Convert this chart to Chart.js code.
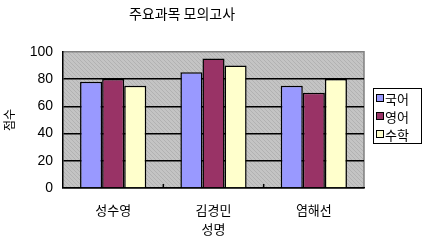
<!DOCTYPE html>
<html><head><meta charset="utf-8">
<script src="https://cdn.jsdelivr.net/npm/chart.js@4/dist/chart.umd.min.js"></script>
<style>html,body{margin:0;padding:0;background:#fff;}#wrap{width:426px;height:246px;}</style>
</head><body><div id="wrap"><canvas id="c" width="426" height="246"></canvas></div>
<script>
const categories = ['성수영', '김경민', '염해선'];
const seriesNames = ['국어', '영어', '수학'];
const korean = [78, 85, 75];
const english = [80, 95, 70];
const math = [75, 90, 80];
const yTicks = [0, 20, 40, 60, 80, 100];
const chartTitle = '주요과목 모의고사';
const xTitle = '성명';
const yTitle = '점수';

const colors = ['#9999FF', '#993366', '#FFFFCC'];
const FONT = "'Liberation Sans', 'Noto Sans CJK KR', sans-serif";
const KFONT = "'Noto Sans CJK KR', 'Liberation Sans', sans-serif";

const pc = document.createElement('canvas'); pc.width = 4; pc.height = 4;
const px = pc.getContext('2d');
px.fillStyle = '#c4c4c4'; px.fillRect(0, 0, 4, 4);
px.fillStyle = '#b2b2b2'; for (let i = 0; i < 4; i++) px.fillRect(i, i, 1, 1);

const bgPlugin = {
  id: 'bg',
  beforeDraw(chart) {
    const a = chart.chartArea, ctx = chart.ctx;
    ctx.save();
    ctx.fillStyle = ctx.createPattern(pc, 'repeat');
    ctx.fillRect(a.left, a.top, a.right - a.left, a.bottom - a.top);
    ctx.strokeStyle = '#808080'; ctx.lineWidth = 1.5;
    ctx.beginPath(); ctx.moveTo(a.left, a.top); ctx.lineTo(a.right, a.top); ctx.lineTo(a.right, a.bottom); ctx.stroke();
    ctx.restore();
  },
  afterDraw(chart) {
    const a = chart.chartArea, ctx = chart.ctx;
    const xs = chart.scales.x;
    ctx.save();
    ctx.strokeStyle = '#000'; ctx.lineWidth = 1.5;
    for (let i = 0; i < categories.length - 1; i++) {
      const p = (xs.getPixelForValue(i) + xs.getPixelForValue(i + 1)) / 2;
      ctx.beginPath(); ctx.moveTo(p, a.bottom); ctx.lineTo(p, a.bottom - 4); ctx.stroke();
    }
    const bx = a.right + 9, by = 88, bw = 48, bh = 55;
    ctx.fillStyle = '#fff'; ctx.fillRect(bx, by, bw, bh);
    ctx.strokeStyle = '#000'; ctx.lineWidth = 1;
    ctx.strokeRect(bx + 0.5, by + 0.5, bw, bh);
    ctx.font = '13px ' + KFONT; ctx.textBaseline = 'middle'; ctx.textAlign = 'left';
    chart.data.datasets.forEach((ds, i) => {
      const cy = by + 10 + i * 18;
      ctx.fillStyle = ds.backgroundColor;
      ctx.fillRect(bx + 4, cy - 3, 6, 6);
      ctx.strokeStyle = '#000'; ctx.strokeRect(bx + 3.5, cy - 3.5, 7, 7);
      ctx.fillStyle = '#000';
      ctx.fillText(ds.label, bx + 12, cy + 1);
    });
    ctx.restore();
  }
};

new Chart(document.getElementById('c'), {
  type: 'bar',
  data: {
    labels: categories,
    datasets: [
      { label: seriesNames[0], data: korean, backgroundColor: colors[0] },
      { label: seriesNames[1], data: english, backgroundColor: colors[1] },
      { label: seriesNames[2], data: math, backgroundColor: colors[2] }
    ].map(d => Object.assign(d, { borderColor: '#000', borderWidth: 1.5, categoryPercentage: 0.66, barPercentage: 1.0 }))
  },
  options: {
    responsive: false,
    animation: false,
    devicePixelRatio: 1,
    layout: { padding: { left: 0, right: 62, top: 0, bottom: 0 } },
    plugins: {
      legend: { display: false },
      tooltip: { enabled: false },
      title: { display: true, text: chartTitle, color: '#000', font: { family: KFONT, size: 14, weight: 'normal' }, padding: { top: 5, bottom: 30 } }
    },
    scales: {
      x: {
        grid: { display: false, drawTicks: false },
        border: { display: true, color: '#000', width: 1.5 },
        ticks: { color: '#000', font: { family: KFONT, size: 13 }, padding: 14, maxRotation: 0 },
        title: { display: true, text: xTitle, color: '#000', font: { family: KFONT, size: 13 }, padding: { top: 1, bottom: 9 } },
        afterFit(s) { s.height = 58; }
      },
      y: {
        min: 0, max: 100,
        afterBuildTicks(s) { s.ticks = yTicks.map(v => ({ value: v })); },
        grid: { drawTicks: false, color: c => (c.tick && c.tick.value === 100) ? 'rgba(0,0,0,0)' : '#000', lineWidth: 1.5 },
        border: { display: true, color: '#000', width: 1.5 },
        ticks: { color: '#000', font: { family: FONT, size: 14 }, padding: 10 },
        title: { display: true, text: yTitle, color: '#000', font: { family: KFONT, size: 12 }, padding: { top: 2, bottom: 0 } },
        afterFit(s) { s.width = 63; }
      }
    }
  },
  plugins: [bgPlugin]
});
</script></body></html>
